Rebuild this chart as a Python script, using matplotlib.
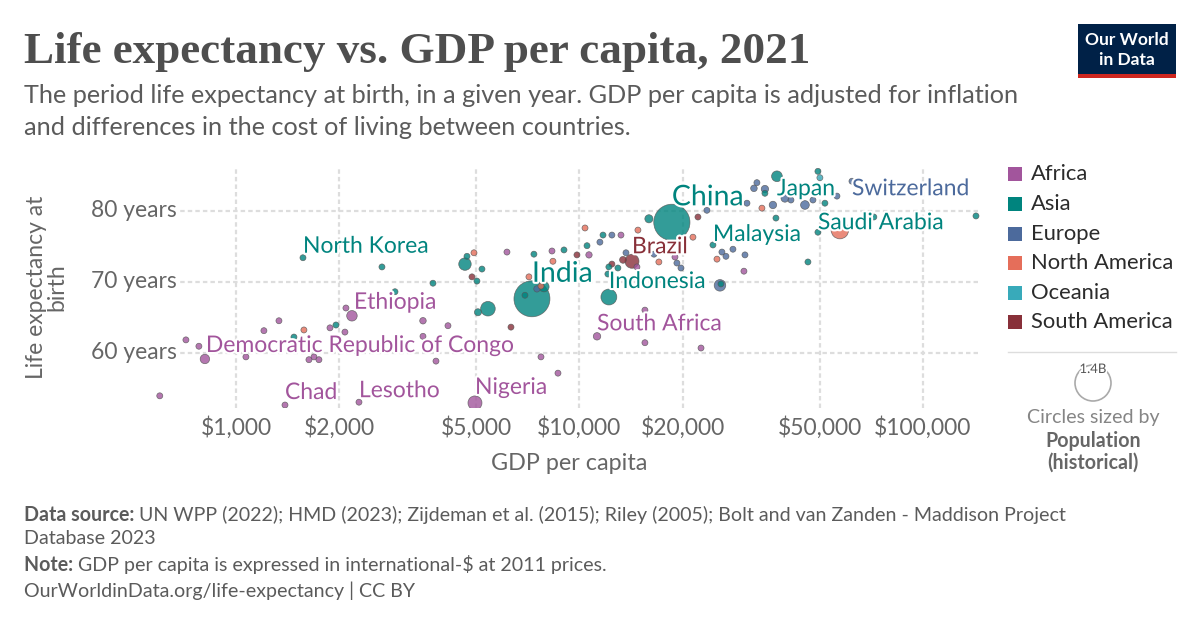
import numpy as np
import pandas as pd
import matplotlib
matplotlib.use('Agg')
import matplotlib.pyplot as plt
import matplotlib.patheffects as pe
from matplotlib.patches import Rectangle, Ellipse
from matplotlib.lines import Line2D

W, H = 1200, 628

continents = ['Africa', 'Asia', 'Europe', 'North America', 'Oceania', 'South America']
continent_colors = ['#a2559c', '#00847e', '#4c6a9c', '#e56e5a', '#38aaba', '#883039']

# GDP per capita (int.-$ 2011), life expectancy (years), population
africa_gdp = [600, 715, 780, 812, 1069, 1206, 1334, 1389, 1631, 1687, 1744, 1878, 2076, 2090, 2176,
              2281, 3503, 3503, 3822, 4142, 4964, 6151, 7727, 8318, 8659, 10660, 11250, 13210,
              14700, 15510, 15510, 18970, 22590, 30120]
africa_le = [53.9, 61.8, 60.9, 59.1, 59.4, 63.1, 64.5, 52.6, 59.0, 59.4, 59.0, 63.5, 62.9, 66.3, 65.2,
             53.0, 64.5, 62.3, 58.8, 63.8, 52.9, 74.2, 59.4, 74.35, 57.1, 73.8, 62.3, 76.6,
             72.1, 61.4, 66.0, 73.5, 60.65, 71.5]
africa_pop = [5e6, 12e6, 19e6, 96e6, 20e6, 17e6, 30e6, 17e6, 8e6, 14e6, 8e6, 30e6, 20e6, 30e6, 120e6,
              2.3e6, 46e6, 20e6, 20e6, 27e6, 213e6, 1e6, 30e6, 37e6, 2e6, 44e6, 60e6, 1e6,
              12e6, 2e6, 2e6, 7e6, 2e6, 7e6]

asia_gdp = [1567, 2661, 2904, 3746, 1955, 1475, 4642, 4705, 5202, 5030, 5415, 5064, 7273, 6940,
            7370, 7883, 9015, 10520, 11710, 12100, 12180, 12940, 12180, 15930, 18580, 24470,
            37330, 37580, 34670, 49460, 51840, 49460, 46260, 142700, 71960, 25820]
asia_le = [73.4, 72.1, 68.6, 69.8, 63.9, 62.2, 72.5, 73.6, 71.8, 70.1, 66.2, 65.7, 67.6, 68.1,
           73.9, 69.3, 74.5, 75.1, 76.6, 71.1, 72.1, 71.95, 67.85, 78.9, 78.4, 75.2,
           79.0, 84.9, 82.5, 85.6, 81.1, 77.0, 72.8, 79.3, 79.15, 69.7]
asia_pop = [26e6, 7e6, 10e6, 10e6, 40e6, 33e6, 169e6, 10e6, 30e6, 7e6, 231e6, 54e6, 1407e6, 7e6,
            30e6, 114e6, 10e6, 10e6, 20e6, 10e6, 10e6, 10e6, 274e6, 72e6, 1425e6, 34e6,
            5e6, 125e6, 9e6, 7.5e6, 5e6, 36e6, 5e6, 3e6, 6e6, 6e6]

europe_gdp = [7520, 11470, 12430, 13660, 16480, 19220, 19750, 23500, 25650, 25990, 26700, 27980,
              30330, 30740, 32210, 32860, 34670, 36580, 39650, 41280, 45340, 47840, 56190, 62140]
europe_le = [69.0, 75.6, 76.6, 74.1, 73.9, 72.65, 71.95, 80.1, 69.5, 74.2, 73.6, 74.6,
             73.8, 81.1, 83.2, 84.0, 83.1, 80.85, 81.8, 81.55, 80.85, 81.55, 82.1, 84.2]
europe_pop = [44e6, 3e6, 3e6, 3e6, 3e6, 9e6, 3e6, 2e6, 145e6, 7e6, 7e6, 19e6,
              10e6, 10e6, 47e6, 5e6, 59e6, 60e6, 68e6, 10e6, 83e6, 10e6, 5e6, 8.7e6]

namerica_gdp = [1577, 4931, 7128, 7727, 8372, 10380, 14800, 17030, 21400, 25140, 33980, 57300]
namerica_le = [63.2, 74.1, 70.7, 69.4, 72.9, 77.6, 77.3, 72.8, 76.3, 73.2, 80.4, 77.3]
namerica_pop = [11e6, 3e6, 10e6, 10e6, 6e6, 3e6, 5e6, 10e6, 5e6, 3e6, 4e6, 332e6]

oceania_gdp = [50120]
oceania_le = [84.7]
oceania_pop = [26e6]

samerica_gdp = [4865, 6319, 9833, 12430, 13390, 14220, 22130]
samerica_le = [70.7, 63.6, 73.8, 72.5, 73.1, 72.9, 79.15]
samerica_pop = [12e6, 1e6, 18e6, 34e6, 51e6, 214e6, 19e6]

# labelled countries: (continent, index into that continent's lists)
label_names = ['North Korea', 'Ethiopia', 'Democratic Republic of Congo', 'Chad', 'Lesotho',
               'Nigeria', 'India', 'Indonesia', 'South Africa', 'Brazil', 'China', 'Malaysia',
               'Japan', 'Switzerland', 'Saudi Arabia']
label_continent = ['Asia', 'Africa', 'Africa', 'Africa', 'Africa', 'Africa', 'Asia', 'Asia',
                   'Africa', 'South America', 'Asia', 'Asia', 'Asia', 'Europe', 'Asia']
label_index = [0, 14, 3, 7, 15, 20, 12, 22, 26, 5, 24, 25, 27, 23, 31]
# label offsets in pixels from the point
label_dx = [0, 2, 1, 0, 0, 0, 0, 0, 0, 0, 0, 0, 0, 0, 0]
label_dy = [5, 7, 7, 6, 5, 9, 17, 9, 6, 8, 17, 4, -19, -14, 3]
label_big = ['India', 'China']

x_ticks = [1000, 2000, 5000, 10000, 20000, 50000, 100000]
x_tick_labels = ['$1,000', '$2,000', '$5,000', '$10,000', '$20,000', '$50,000', '$100,000']
y_ticks = [60, 70, 80]
y_tick_labels = ['60 years', '70 years', '80 years']

FONT = 'Lato'
GREY = '#5b5b5b'
AXIS_GREY = '#666666'


def fx(px):
    return px / W


def fy(py):
    return 1 - py / H


def main():
    frames = []
    series = [
        (africa_gdp, africa_le, africa_pop),
        (asia_gdp, asia_le, asia_pop),
        (europe_gdp, europe_le, europe_pop),
        (namerica_gdp, namerica_le, namerica_pop),
        (oceania_gdp, oceania_le, oceania_pop),
        (samerica_gdp, samerica_le, samerica_pop),
    ]
    for name, color, (g, l, p) in zip(continents, continent_colors, series):
        frames.append(pd.DataFrame({'gdp': g, 'le': l, 'pop': p, 'continent': name, 'color': color}))
    data = pd.concat(frames, ignore_index=True)
    # big bubbles go underneath
    data = data.sort_values('pop', ascending=False)

    radius = np.maximum(3.0, 18 * np.sqrt(data['pop'].values / 1.41e9))
    sizes = (2 * radius * 0.72) ** 2

    plt.rcParams['font.family'] = [FONT, 'DejaVu Sans']
    fig = plt.figure(figsize=(W / 100, H / 100), dpi=100)
    fig.patch.set_facecolor('white')

    ax = fig.add_axes([fx(150), fy(408), 830 / W, 240 / H])
    ax.set_xscale('log')
    ax.set_xlim(562, 146600)
    ax.set_ylim(52.18, 86.07)
    ax.set_axisbelow(True)

    ax.scatter(data['gdp'], data['le'], s=sizes, c=data['color'], alpha=0.8,
               edgecolors='#555555', linewidths=0.5, zorder=2)

    # axes styling
    for sp in ax.spines.values():
        sp.set_visible(False)
    ax.set_xticks(x_ticks)
    ax.set_xticklabels(x_tick_labels)
    ax.xaxis.set_minor_locator(matplotlib.ticker.NullLocator())
    ax.set_yticks(y_ticks)
    ax.tick_params(axis='both', length=0)
    ax.tick_params(axis='y', labelleft=False)
    ax.tick_params(axis='x', labelsize=16.5, labelcolor=AXIS_GREY, pad=6)
    ax.grid(True, color='#dddddd', linestyle=(0, (2, 1.4)), linewidth=1.6)

    for yv, yl in zip(y_ticks, y_tick_labels):
        ax.text(0.0325, yv, yl, transform=ax.get_yaxis_transform(), ha='right', va='center',
                fontsize=16.5, color=AXIS_GREY, zorder=5,
                bbox=dict(facecolor='white', edgecolor='none', pad=1.0))

    # country labels
    color_of = dict(zip(continents, continent_colors))
    lookup = dict(zip(continents, series))
    for name, cont, idx, dx, dy in zip(label_names, label_continent, label_index, label_dx, label_dy):
        g, l, _ = lookup[cont]
        ax.annotate(name, xy=(g[idx], l[idx]), xytext=(dx, dy), textcoords='offset pixels',
                    ha='left', va='baseline', color=color_of[cont],
                    fontsize=20.5 if name in label_big else 16.5, zorder=6,
                    path_effects=[pe.withStroke(linewidth=3, foreground='white')])

    # axis titles
    fig.text(fx(569), fy(464), 'GDP per capita', ha='center', va='center',
             fontsize=16.8, color=AXIS_GREY)
    fig.text(fx(47), fy(287), 'Life expectancy at\nbirth', ha='center', va='center',
             rotation=90, fontsize=16.5, color=AXIS_GREY, linespacing=0.95, multialignment='center')

    # title and subtitle
    fig.text(fx(24), fy(63), 'Life expectancy vs. GDP per capita, 2021', ha='left', va='baseline',
             fontsize=32.5, fontweight='bold', family='Liberation Serif', color='#4e4e4e')
    fig.text(fx(24), fy(103), 'The period life expectancy at birth, in a given year. GDP per capita '
             'is adjusted for inflation', ha='left', va='baseline', fontsize=18.2, color=GREY)
    fig.text(fx(24), fy(135), 'and differences in the cost of living between countries.',
             ha='left', va='baseline', fontsize=18.2, color=GREY)

    # logo
    fig.add_artist(Rectangle((fx(1078), fy(74)), 98 / W, 50 / H, transform=fig.transFigure,
                             facecolor='#002147', edgecolor='none'))
    fig.add_artist(Rectangle((fx(1078), fy(78)), 98 / W, 4 / H, transform=fig.transFigure,
                             facecolor='#ce261e', edgecolor='none'))
    fig.text(fx(1127), fy(40), 'Our World', ha='center', va='center', color='white',
             fontsize=12.5, fontweight='bold')
    fig.text(fx(1127), fy(60), 'in Data', ha='center', va='center', color='white',
             fontsize=12.5, fontweight='bold')

    # colour legend
    row_y = [174, 204, 234, 263, 293, 322]
    for name, color, ry in zip(continents, continent_colors, row_y):
        fig.add_artist(Rectangle((fx(1008), fy(ry + 7)), 14 / W, 14 / H, transform=fig.transFigure,
                                 facecolor=color, edgecolor='none'))
        fig.text(fx(1031), fy(ry), name, ha='left', va='center', fontsize=15.8, color='#2b2b2b')

    fig.add_artist(Line2D([fx(1008), fx(1176)], [fy(352), fy(352)], transform=fig.transFigure,
                          color='#dddddd', linewidth=1))
    fig.add_artist(Ellipse((fx(1093), fy(383)), 36 / W, 36 / H, transform=fig.transFigure,
                           facecolor='none', edgecolor='#aaaaaa', linewidth=1.2))
    fig.text(fx(1093), fy(369), '1.4B', ha='center', va='center', fontsize=9.5, color='#555555',
             path_effects=[pe.withStroke(linewidth=2.5, foreground='white')])
    fig.text(fx(1093), fy(418), 'Circles sized by', ha='center', va='center', fontsize=14.1,
             color='#858585')
    fig.text(fx(1093), fy(441), 'Population', ha='center', va='center', fontsize=14.1,
             color='#666666', fontweight='bold')
    fig.text(fx(1093), fy(463), '(historical)', ha='center', va='center', fontsize=14.1,
             color='#666666', fontweight='bold')

    # footer
    renderer = fig.canvas.get_renderer()

    def rich(px, py, parts):
        x = fx(px)
        for txt, bold in parts:
            t = fig.text(x, fy(py), txt, ha='left', va='center', fontsize=14.1, color=GREY,
                         fontweight='bold' if bold else 'normal')
            bb = t.get_window_extent(renderer=renderer)
            x = (bb.x1) / W

    rich(24, 515, [('Data source: ', True),
                   ('UN WPP (2022); HMD (2023); Zijdeman et al. (2015); Riley (2005); Bolt and van '
                    'Zanden - Maddison Project', False)])
    rich(24, 538, [('Database 2023', False)])
    rich(24, 565, [('Note: ', True),
                   ('GDP per capita is expressed in international-$ at 2011 prices.', False)])
    rich(24, 591, [('OurWorldinData.org/life-expectancy | CC BY', False)])

    fig.savefig('out.png', dpi=100, facecolor='white')


if __name__ == '__main__':
    main()
